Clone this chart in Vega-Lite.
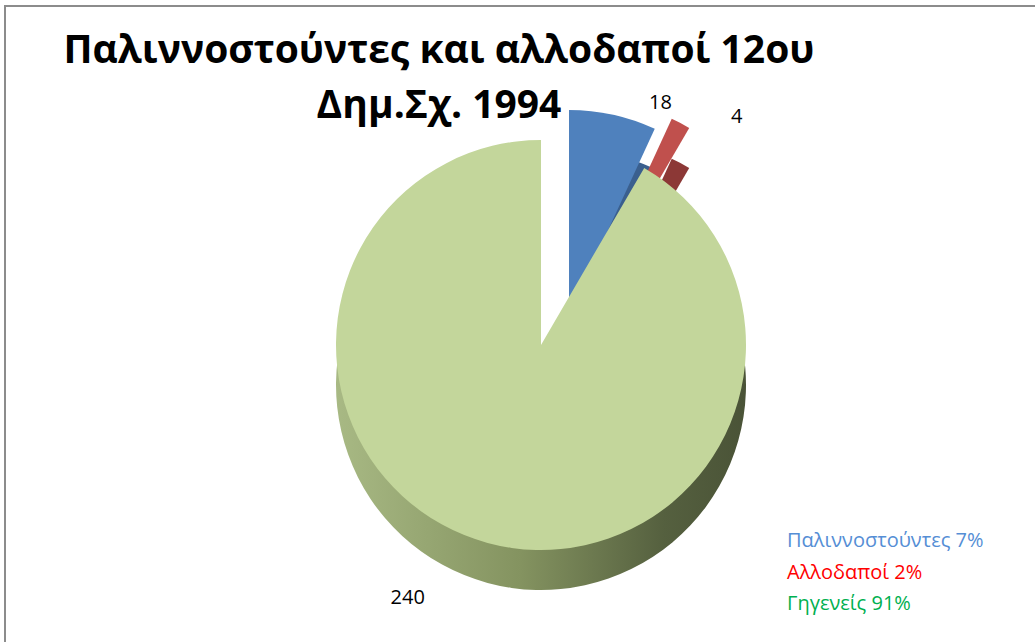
{
  "$schema": "https://vega.github.io/schema/vega-lite/v6.json",
  "autosize": {"type": "none"},
  "padding": {"left": 5, "top": 6, "right": 0, "bottom": 0},
  "width": 1072,
  "height": 678,
  "background": "white",
  "view": {"stroke": "#8c8c8c", "strokeWidth": 2},
  "config": {"view": {"stroke": "#8c8c8c", "strokeWidth": 2}},
  "title": {
    "text": ["Παλιννοστούντες και αλλοδαποί 12ου", "Δημ.Σχ. 1994"],
    "font": "Open Sans",
    "fontSize": 39,
    "fontWeight": "bold",
    "color": "#000000",
    "anchor": "start",
    "align": "center",
    "baseline": "alphabetic",
    "orient": "top",
    "offset": 0,
    "dx": 434,
    "dy": 151,
    "lineHeight": 55
  },
  "data": {
    "values": [
      {"k": "Παλιννοστούντες", "v": 18, "o": 1, "leg": "Παλιννοστούντες 7%"},
      {"k": "Αλλοδαποί", "v": 4, "o": 2, "leg": "Αλλοδαποί 2%"},
      {"k": "Γηγενείς", "v": 240, "o": 3, "leg": "Γηγενείς 91%"}
    ]
  },
  "transform": [
    {"stack": "v", "groupby": [], "sort": [{"field": "o"}], "as": ["t0", "t1"]},
    {"calculate": "(datum.t0 + datum.t1) / 2", "as": "mid"}
  ],
  "layer": [
    {
      "transform": [{"filter": "datum.o == 1"}],
      "mark": {"type": "arc", "radius": 205, "xOffset": 28, "yOffset": 10, "color": "#3a5f8e"},
      "encoding": {
        "theta": {"field": "t0", "type": "quantitative", "scale": {"domain": [0, 262]}},
        "theta2": {"field": "t1"}
      }
    },
    {
      "transform": [{"filter": "datum.o == 1"}],
      "mark": {"type": "arc", "radius": 205, "xOffset": 28, "yOffset": -30},
      "encoding": {
        "theta": {"field": "t0", "type": "quantitative", "scale": {"domain": [0, 262]}},
        "theta2": {"field": "t1"},
        "color": {"field": "leg", "type": "nominal",
          "scale": {"domain": ["Παλιννοστούντες 7%", "Αλλοδαποί 2%", "Γηγενείς 91%"], "range": ["#4f81bd", "#c0504d", "#c3d69b"]},
          "legend": {
            "orient": "none", "legendX": 762, "legendY": 525, "title": null,
            "symbolOpacity": 0, "symbolSize": 1, "symbolStrokeWidth": 0, "labelOffset": 0,
            "labelFont": "Open Sans", "labelFontSize": 20, "rowPadding": 11.5, "labelLimit": 0,
            "encode": {"labels": {"update": {"fill": {"signal": "datum.value === 'Παλιννοστούντες 7%' ? '#558ed5' : datum.value === 'Αλλοδαποί 2%' ? '#ff0000' : '#00b050'"}}}}
          }
        }
      }
    },
    {
      "transform": [{"filter": "datum.o == 2"}],
      "mark": {"type": "arc", "radius": 205, "xOffset": 45, "yOffset": 0, "color": "#8c3836"},
      "encoding": {
        "theta": {"field": "t0", "type": "quantitative", "scale": {"domain": [0, 262]}},
        "theta2": {"field": "t1"}
      }
    },
    {
      "transform": [{"filter": "datum.o == 2"}],
      "mark": {"type": "arc", "radius": 205, "xOffset": 45, "yOffset": -40},
      "encoding": {
        "theta": {"field": "t0", "type": "quantitative", "scale": {"domain": [0, 262]}},
        "theta2": {"field": "t1"},
        "color": {"field": "leg", "type": "nominal"}
      }
    },
    {
      "transform": [{"filter": "datum.o == 3"}],
      "mark": {"type": "arc", "radius": 205, "yOffset": 40,
        "color": {"gradient": "linear", "x1": 0, "y1": 0, "x2": 1, "y2": 0,
          "stops": [{"offset": 0, "color": "#a8b984"}, {"offset": 0.45, "color": "#849360"}, {"offset": 0.8, "color": "#55603f"}, {"offset": 1, "color": "#4a5337"}]}},
      "encoding": {
        "theta": {"field": "t0", "type": "quantitative", "scale": {"domain": [0, 262]}},
        "theta2": {"field": "t1"}
      }
    },
    {
      "transform": [{"filter": "datum.o == 3"}],
      "mark": {"type": "arc", "radius": 205},
      "encoding": {
        "theta": {"field": "t0", "type": "quantitative", "scale": {"domain": [0, 262]}},
        "theta2": {"field": "t1"},
        "color": {"field": "leg", "type": "nominal"}
      }
    },
    {
      "transform": [{"filter": "datum.o == 1"}],
      "mark": {"type": "text", "radius": 217, "xOffset": 28, "yOffset": -30, "dx": 45, "font": "Open Sans", "fontSize": 20, "color": "#000000"},
      "encoding": {
        "theta": {"field": "mid", "type": "quantitative", "scale": {"domain": [0, 262]}},
        "text": {"field": "v", "type": "quantitative"}
      }
    },
    {
      "transform": [{"filter": "datum.o == 2"}],
      "mark": {"type": "text", "radius": 212, "xOffset": 45, "yOffset": -40, "dx": 53, "font": "Open Sans", "fontSize": 20, "color": "#000000"},
      "encoding": {
        "theta": {"field": "mid", "type": "quantitative", "scale": {"domain": [0, 262]}},
        "text": {"field": "v", "type": "quantitative"}
      }
    },
    {
      "transform": [{"filter": "datum.o == 3"}],
      "mark": {"type": "text", "radius": 262, "dx": -65, "font": "Open Sans", "fontSize": 20, "color": "#000000"},
      "encoding": {
        "theta": {"field": "mid", "type": "quantitative", "scale": {"domain": [0, 262]}},
        "text": {"field": "v", "type": "quantitative"}
      }
    }
  ]
}
